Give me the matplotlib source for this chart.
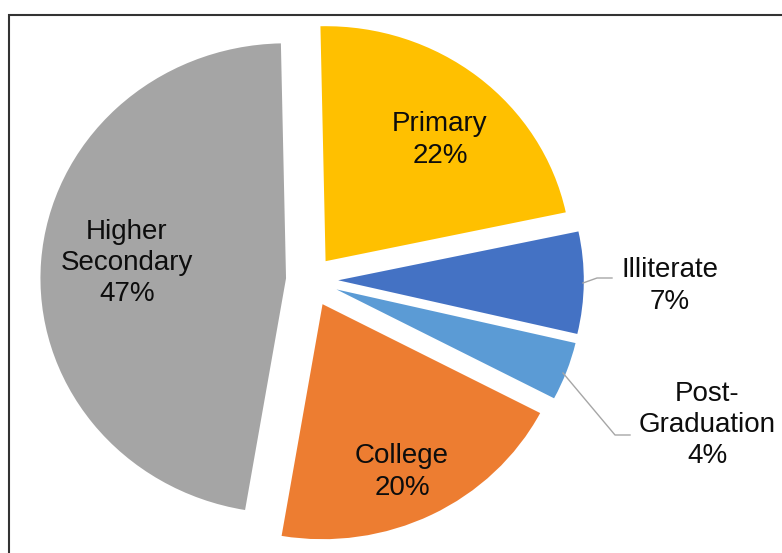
import matplotlib.pyplot as plt
from matplotlib.patches import Rectangle

#-------Dados-------#

categorias = ['Primary', 'Illiterate', 'Post-\nGraduation', 'College', 'Higher\nSecondary']
percentuais = [22, 7, 4, 20, 47]
cores = ['#FFC000', '#4472C4', '#5B9BD5', '#ED7D31', '#A5A5A5']

#-------Layout (pixels da imagem)-------#

W, H = 782, 553
SX = 1.045  # a pizza original e um pouco mais larga que alta
RAIO = 235
# deslocamento de cada fatia (em pixels; o pie do matplotlib usa unidades de dados)
explode = [24, 27, 27, 27, 23]
pos_rotulos = [(440, 140), (670, 286), (707, 425), (402, 472), (127, 263)]
linhas_guia = [
    [(583, 283), (597, 278), (612, 278)],
    [(563, 373), (615, 435), (630, 435)],
]


def px(x, y):
    return x / SX, H - y


fig = plt.figure(figsize=(W / 100, H / 100), dpi=100)
ax = fig.add_axes([0, 0, 1, 1])

wedges, _ = ax.pie(percentuais, colors=cores, explode=explode, startangle=91.2,
                   counterclock=False, radius=RAIO, center=px(310, 280),
                   wedgeprops=dict(linewidth=0))
ax.set_aspect('auto')
ax.set_xlim(0, W / SX)
ax.set_ylim(0, H)
ax.axis('off')

for nome, pct, (x, y) in zip(categorias, percentuais, pos_rotulos):
    ax.text(*px(x, y), f"{nome}\n{pct}%", ha='center', va='center',
            fontsize=20, family='Liberation Sans', color='#0d0d0d',
            linespacing=1.27)

for linha in linhas_guia:
    xs, ys = zip(*[px(x, y) for x, y in linha])
    ax.plot(xs, ys, color='#A6A6A6', lw=1)

# moldura do grafico (cortada a direita e embaixo)
fig.add_artist(Rectangle((9 / W, -0.1), 1.2, 1.1 - 15 / H, transform=fig.transFigure,
                         fill=False, edgecolor='#333333', lw=1.5))

fig.savefig('out.png', dpi=100)
